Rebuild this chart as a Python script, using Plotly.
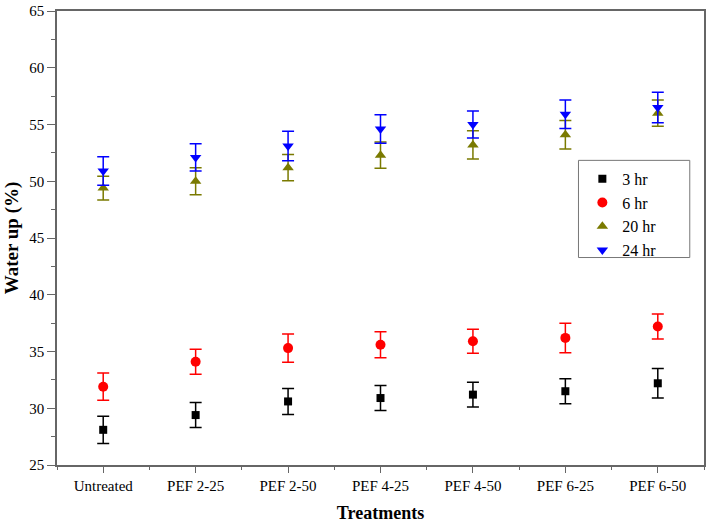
import plotly.graph_objects as go

# Data
treatments = ["Untreated", "PEF 2-25", "PEF 2-50", "PEF 4-25", "PEF 4-50", "PEF 6-25", "PEF 6-50"]

hr3 = [28.1, 29.4, 30.6, 30.9, 31.2, 31.5, 32.2]
hr3_err = [1.2, 1.1, 1.15, 1.1, 1.1, 1.1, 1.3]

hr6 = [31.9, 34.1, 35.3, 35.6, 35.9, 36.2, 37.2]
hr6_err = [1.2, 1.1, 1.25, 1.15, 1.05, 1.3, 1.1]

hr20 = [49.4, 50.0, 51.2, 52.3, 53.2, 54.1, 56.0]
hr20_err = [1.05, 1.2, 1.15, 1.15, 1.25, 1.25, 1.15]

hr24 = [50.9, 52.1, 53.1, 54.6, 55.0, 55.9, 56.5]
hr24_err = [1.25, 1.2, 1.3, 1.25, 1.2, 1.25, 1.35]

x_pos = list(range(len(treatments)))
minor_pos = [i + 0.5 for i in range(-1, len(treatments))]

FONT = "Liberation Serif, Times New Roman, serif"

series = [
    ("3 hr", hr3, hr3_err, "#000000", "square", 8),
    ("6 hr", hr6, hr6_err, "#ff0000", "circle", 10),
    ("20 hr", hr20, hr20_err, "#7a7a00", "triangle-up", 10),
    ("24 hr", hr24, hr24_err, "#0000ff", "triangle-down", 10),
]

fig = go.Figure()

for name, vals, errs, color, symbol, size in series:
    fig.add_trace(
        go.Scatter(
            x=x_pos,
            y=vals,
            mode="markers",
            name=name,
            marker=dict(symbol=symbol, size=size, color=color),
            error_y=dict(type="data", array=errs, color=color, thickness=1.5, width=6),
        )
    )

axis_common = dict(
    showline=True,
    linecolor="#666666",
    linewidth=1.5,
    mirror=True,
    ticks="outside",
    tickcolor="#666666",
    showgrid=False,
    zeroline=False,
    tickfont=dict(family=FONT, size=15, color="#000000"),
)

# legend frame (wider than plotly's own legend box)
fig.add_shape(
    type="rect", xref="x domain", yref="y domain",
    x0=0.806, x1=0.978, y0=0.457, y1=0.671,
    line=dict(color="#777777", width=1), fillcolor="white", layer="below",
)

fig.update_layout(
    width=709,
    height=527,
    margin=dict(l=57, r=3, t=9, b=62),
    plot_bgcolor="white",
    paper_bgcolor="white",
    font=dict(family=FONT, color="#000000"),
    xaxis=dict(
        **axis_common,
        ticklen=6,
        range=[-0.5, 6.5],
        tickmode="array",
        tickvals=x_pos,
        ticktext=treatments,
        minor=dict(tickmode="array", tickvals=minor_pos, ticks="outside", ticklen=3,
                   tickcolor="#666666", showgrid=False),
        title=dict(text="<b>Treatments</b>", font=dict(family=FONT, size=18), standoff=14),
    ),
    yaxis=dict(
        **axis_common,
        ticklen=8,
        range=[25, 65],
        dtick=5,
        minor=dict(dtick=2.5, ticks="outside", ticklen=4, tickcolor="#666666", showgrid=False),
        title=dict(text="<b>Water up (%)</b>", font=dict(family=FONT, size=19), standoff=6),
    ),
    legend=dict(
        x=0.812,
        y=0.668,
        xanchor="left",
        yanchor="top",
        borderwidth=0,
        bgcolor="rgba(0,0,0,0)",
        font=dict(family=FONT, size=16),
        itemwidth=30,
        tracegroupgap=0,
    ),
    showlegend=True,
)

fig.write_html(
    "out.html",
    config={"displayModeBar": False},
    post_script="document.body.style.margin='0';document.body.style.overflow='hidden';",
)
